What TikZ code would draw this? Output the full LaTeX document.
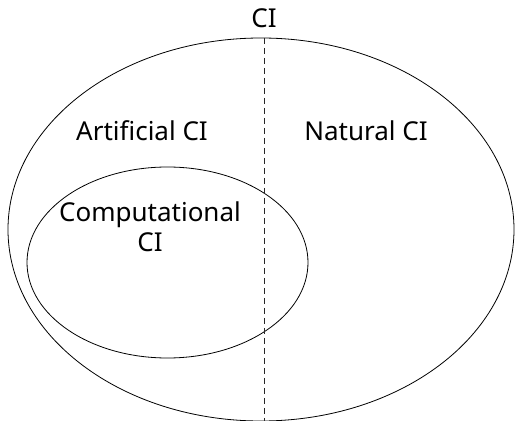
\documentclass[tikz,border=0pt]{standalone}
\usepackage{fontspec}
\setmainfont{Noto Sans}
\usetikzlibrary{shapes.geometric}
\begin{document}
\begin{tikzpicture}[x=1pt,y=1pt,
  region/.style={draw=black, line width=0.8pt, ellipse, inner sep=0pt, fill=none},
  label/.style={font=\fontsize{26}{30}\selectfont, anchor=base, inner sep=0pt, align=center},
  divider/.style={draw=black!85, line width=0.8pt, dash pattern=on 6pt off 4pt}]
  \useasboundingbox (0,0) rectangle (515,421);
  % whole field and its computational subset
  \node[region, minimum width=506pt, minimum height=383pt] (ci) at (261,191.5) {};
  \node[region, minimum width=281pt, minimum height=191pt] (comp) at (167.5,158.5) {};
  % split between artificial and natural
  \coordinate (divtop) at (264,383);
  \coordinate (divbot) at (264,0);
  \draw[divider] (divtop) -- (divbot);
  % labels
  \node[label] (title) at (264,393) {CI};
  \node[label] (art) at (142,280) {Artificial CI};
  \node[label] (nat) at (366,280) {Natural CI};
  \node[label] (compt) at (150,199) {Computational};
  \node[label] (compci) at (150,169) {CI};
\end{tikzpicture}
\end{document}
